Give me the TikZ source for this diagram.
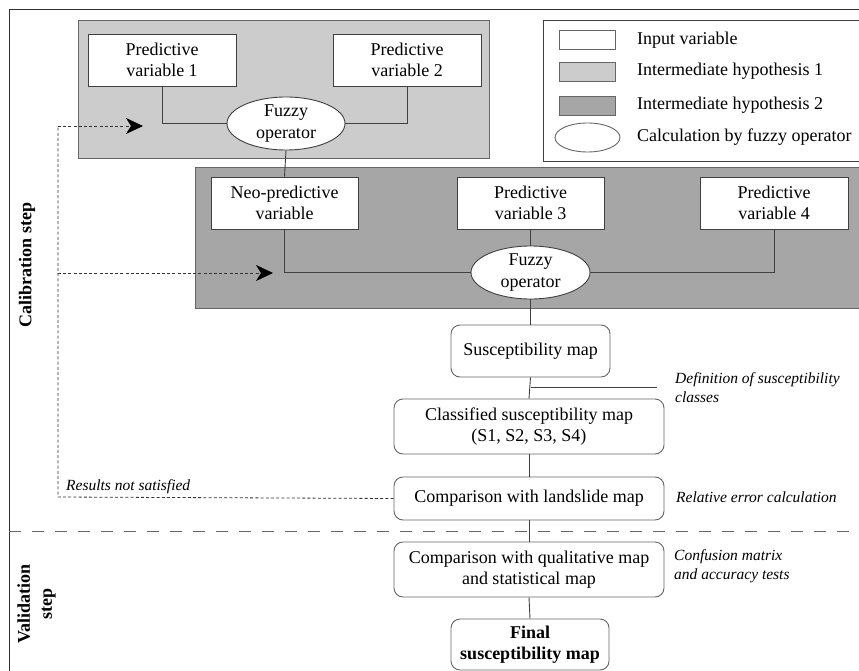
\documentclass[tikz,border=0pt]{standalone}
\usepackage{fontspec}
\setmainfont{Liberation Serif}[ItalicFont={Liberation Serif Italic}, BoldFont={Liberation Serif Bold}, BoldItalicFont={Liberation Serif Bold Italic}]
\usetikzlibrary{arrows.meta,shapes.geometric}
\definecolor{hypa}{HTML}{CCCCCC}
\definecolor{hypb}{HTML}{A6A6A6}
\definecolor{edge}{HTML}{404040}
\definecolor{soft}{HTML}{666666}
\tikzset{
  txt/.style={font=\fontsize{18}{21.5}\selectfont, align=center, inner sep=0pt},
  varbox/.style={txt, draw=edge, fill=white, line width=0.9pt},
  fuzzy/.style={txt, ellipse, draw=edge, fill=white, line width=0.9pt},
  mapbox/.style={txt, draw=soft, fill=white, rounded corners=9pt, line width=0.9pt},
  note/.style={font=\fontsize{15.5}{19}\selectfont\itshape, align=left, inner sep=0pt, anchor=west},
  side/.style={font=\fontsize{18}{22}\selectfont\bfseries, align=center, rotate=90, inner sep=0pt},
  link/.style={draw=edge, line width=0.9pt},
  fb/.style={draw=black!80, line width=0.8pt, dash pattern=on 3pt off 2.2pt},
  tip/.style={-{Stealth[length=17pt,width=16pt,inset=5pt,color=black,fill=black]}},
}
\begin{document}
\begin{tikzpicture}[x=1pt,y=-1pt]
\useasboundingbox (0,0) rectangle (859,671);
\clip (0,0) rectangle (859,671);
% outer frame
\draw[draw=black!80, line width=0.9pt] (9,671) -- (9,9) -- (870,9);
% hypothesis boxes
\draw[draw=soft, fill=hypa, line width=1pt] (78,21) rectangle (489,159);
\draw[draw=soft, fill=hypb, line width=1pt] (195,168) rectangle (875,308);
% legend
\draw[draw=edge, fill=white, line width=0.9pt] (543,20) rectangle (875,161);
\node[draw=soft, fill=white, line width=0.9pt, minimum width=56pt, minimum height=19pt, inner sep=0pt] (lg1) at (587,39.5) {};
\node[draw=soft, fill=hypa, line width=0.9pt, minimum width=56pt, minimum height=19pt, inner sep=0pt] (lg2) at (587,71.5) {};
\node[draw=soft, fill=hypb, line width=0.9pt, minimum width=56pt, minimum height=19pt, inner sep=0pt] (lg3) at (587,105.5) {};
\node[ellipse, draw=soft, fill=white, line width=0.9pt, minimum width=65pt, minimum height=29pt, inner sep=0pt] (lg4) at (587.5,137.5) {};
\node[txt, anchor=west] (lt1) at (637,40) {Input variable};
\node[txt, anchor=west] (lt2) at (637,71) {Intermediate hypothesis 1};
\node[txt, anchor=west] (lt3) at (637,105) {Intermediate hypothesis 2};
\node[txt, anchor=west] (lt4) at (637,137) {Calculation by fuzzy operator};
% first level
\node[varbox, minimum width=148pt, minimum height=52pt] (pv1) at (162,60) {Predictive\\variable 1};
\node[varbox, minimum width=148pt, minimum height=52pt] (pv2) at (407,60) {Predictive\\variable 2};
\node[fuzzy, minimum width=118pt, minimum height=53pt] (fz1) at (286,123.5) {Fuzzy\\operator};
% second level
\node[varbox, minimum width=147pt, minimum height=52pt] (neo) at (284.5,203) {Neo-predictive\\variable};
\node[varbox, minimum width=147pt, minimum height=52pt] (pv3) at (530.5,203) {Predictive\\variable 3};
\node[varbox, minimum width=148pt, minimum height=52pt] (pv4) at (774,203) {Predictive\\variable 4};
\node[fuzzy, minimum width=119pt, minimum height=53pt] (fz2) at (530.5,272.5) {Fuzzy\\operator};
% maps
\node[mapbox, minimum width=159pt, minimum height=52pt] (sm) at (530.5,351) {Susceptibility map};
\node[mapbox, minimum width=270pt, minimum height=55pt] (csm) at (529,426.5) {Classified susceptibility map\\(S1, S2, S3, S4)};
\node[mapbox, minimum width=270pt, minimum height=43pt] (cl) at (529,498.5) {Comparison with landslide map};
\node[mapbox, minimum width=270pt, minimum height=55pt] (cq) at (529,569.5) {Comparison with qualitative map\\and statistical map};
\node[mapbox, minimum width=158pt, minimum height=51pt, font=\fontsize{18}{21.5}\selectfont\bfseries] (fin) at (530,644.5) {Final\\susceptibility map};
% connectors
\draw[link] (pv1.south) |- (fz1.west);
\draw[link] (pv2.south) |- (fz1.east);
\draw[link] (fz1.south) -- (neo.north);
\draw[link] (neo.south) |- (fz2.west);
\draw[link] (pv3.south) -- (fz2.north);
\draw[link] (pv4.south) |- (fz2.east);
\draw[link] (fz2.south) -- (sm.north);
\draw[link] (sm.south) -- (csm.north);
\coordinate (defA) at (sm.south |- 0,387);
\coordinate (defB) at (657,387);
\draw[link] (defA) -- (defB);
\draw[link] (csm.south) -- (cl.north);
\draw[link] (cl.south) -- (cq.north);
\draw[link] (cq.south) -- (fin.north);
% separator
\coordinate (sepL) at (9,531);
\coordinate (sepR) at (870,531);
\draw[draw=soft, line width=0.9pt, dash pattern=on 12pt off 11pt] (sepL) -- (sepR);
% feedback
\coordinate (fbC) at (58,497);
\coordinate (fbT) at (58,126);
\coordinate (fbM) at (58,273);
\coordinate (arA) at (143,126);
\coordinate (arB) at (273,273);
\draw[fb] (cl.west) -- (fbC) -- (fbT);
\draw[fb, tip] (fbT) -- (arA);
\draw[fb, tip] (fbM) -- (arB);
% notes
\node[note] (n1) at (675,387.5) {Definition of susceptibility\\classes};
\node[note] (n2) at (676,497) {Relative error calculation};
\node[note] (n3) at (674,566.5) {Confusion matrix\\and accuracy tests};
\node[note] (n4) at (66,487) {Results not satisfied};
% side labels
\node[side] (cal) at (27,265) {Calibration step};
\node[side] (val) at (36.5,604) {Validation\\step};
\end{tikzpicture}
\end{document}
